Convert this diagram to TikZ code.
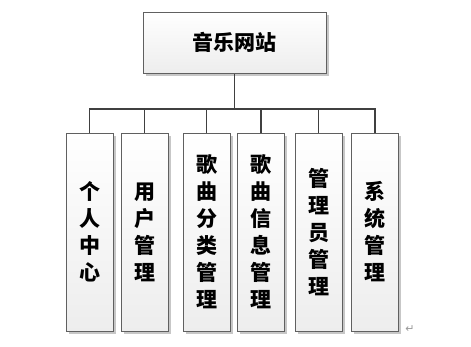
\documentclass[tikz,border=0pt]{standalone}
\usepackage{fontspec}
\newfontfamily\cjk{Noto Sans CJK SC}
\newfontfamily\sym{DejaVu Sans}
\usetikzlibrary{shadows}
\definecolor{boxline}{HTML}{606060}
\definecolor{conn}{HTML}{404040}
\tikzset{
  box/.style={draw=boxline, line width=1pt, top color=white, bottom color=black!7,
    drop shadow={shadow xshift=2.5pt, shadow yshift=-2.5pt, fill=black!22, opacity=1},
    align=center, inner sep=0pt, text=black},
  topbox/.style={box, minimum width=183pt, minimum height=61pt,
    font=\cjk\bfseries\fontsize{21}{24}\selectfont},
  subbox/.style={box, minimum width=47pt, minimum height=198pt,
    font=\cjk\bfseries\fontsize{21}{27}\selectfont},
  link/.style={draw=conn, line width=1.3pt}
}
\begin{document}
\begin{tikzpicture}[x=1pt,y=-1pt]
\useasboundingbox (0,0) rectangle (471,346);
\node[topbox] (top) at (234.5,42.5) {音乐网站};
\node[subbox] (b1) at (89.5,232) {个\\人\\中\\心};
\node[subbox] (b2) at (144.5,232) {用\\户\\管\\理};
\node[subbox] (b3) at (206.5,232) {歌\\曲\\分\\类\\管\\理};
\node[subbox] (b4) at (261,232) {歌\\曲\\信\\息\\管\\理};
\node[subbox] (b5) at (318.5,232) {管\\理\\员\\管\\理};
\node[subbox] (b6) at (375,232) {系\\统\\管\\理};
\coordinate (bus) at (0,109);
\draw[link] (top.south) -- (top.south |- bus);
\draw[link] (b1.north) -- (b1.north |- bus) -- (b6.north |- bus) -- (b6.north);
\foreach \n in {b2,b3,b4,b5} \draw[link] (\n.north) -- (\n.north |- bus);
\node[text=black!40, font=\sym\fontsize{11}{12}\selectfont, inner sep=0pt] (ret) at (410,329) {↵};
\end{tikzpicture}
\end{document}
